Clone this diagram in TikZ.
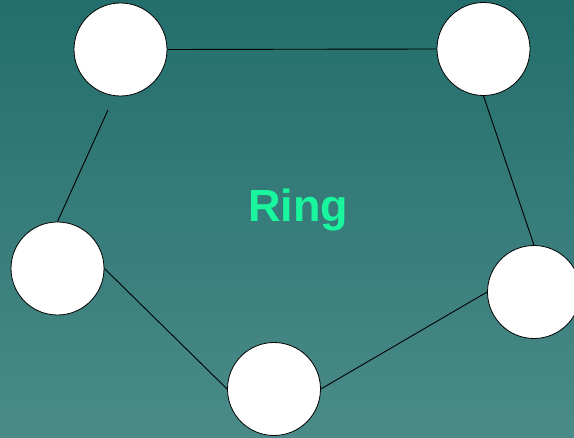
\documentclass[tikz,border=0pt]{standalone}
\usepackage{fontspec}
\setmainfont{Liberation Sans}
\begin{document}
\begin{tikzpicture}[x=1pt,y=-1pt,
  station/.style={circle,draw=black,line width=0.8pt,fill=white,minimum size=93pt,inner sep=0pt},
  link/.style={draw=black,line width=0.9pt}]
\definecolor{bgtop}{RGB}{35,110,108}
\definecolor{bgbot}{RGB}{74,139,137}
\definecolor{ringgreen}{RGB}{26,246,158}
\shade[top color=bgtop,bottom color=bgbot] (0,0) rectangle (574,438);
\useasboundingbox (0,0) rectangle (574,438);
\node[station] (a) at (120.5,49.5) {};
\node[station] (b) at (483.5,49) {};
\node[station] (c) at (57.5,268.5) {};
\node[station] (d) at (274,389) {};
\node[station] (e) at (534,292) {};
\coordinate (af) at (108,110);
\node[text=ringgreen,font=\bfseries\fontsize{45}{50}\selectfont] (t) at (298,210) {Ring};
\draw[link] (a.east) -- (b.west);
\draw[link] (af) -- (c.north);
\draw[link] (b.south) -- (e.north);
\draw[link] (e.west) -- (d.east);
\draw[link] (c.east) -- (d.west);
\end{tikzpicture}
\end{document}
